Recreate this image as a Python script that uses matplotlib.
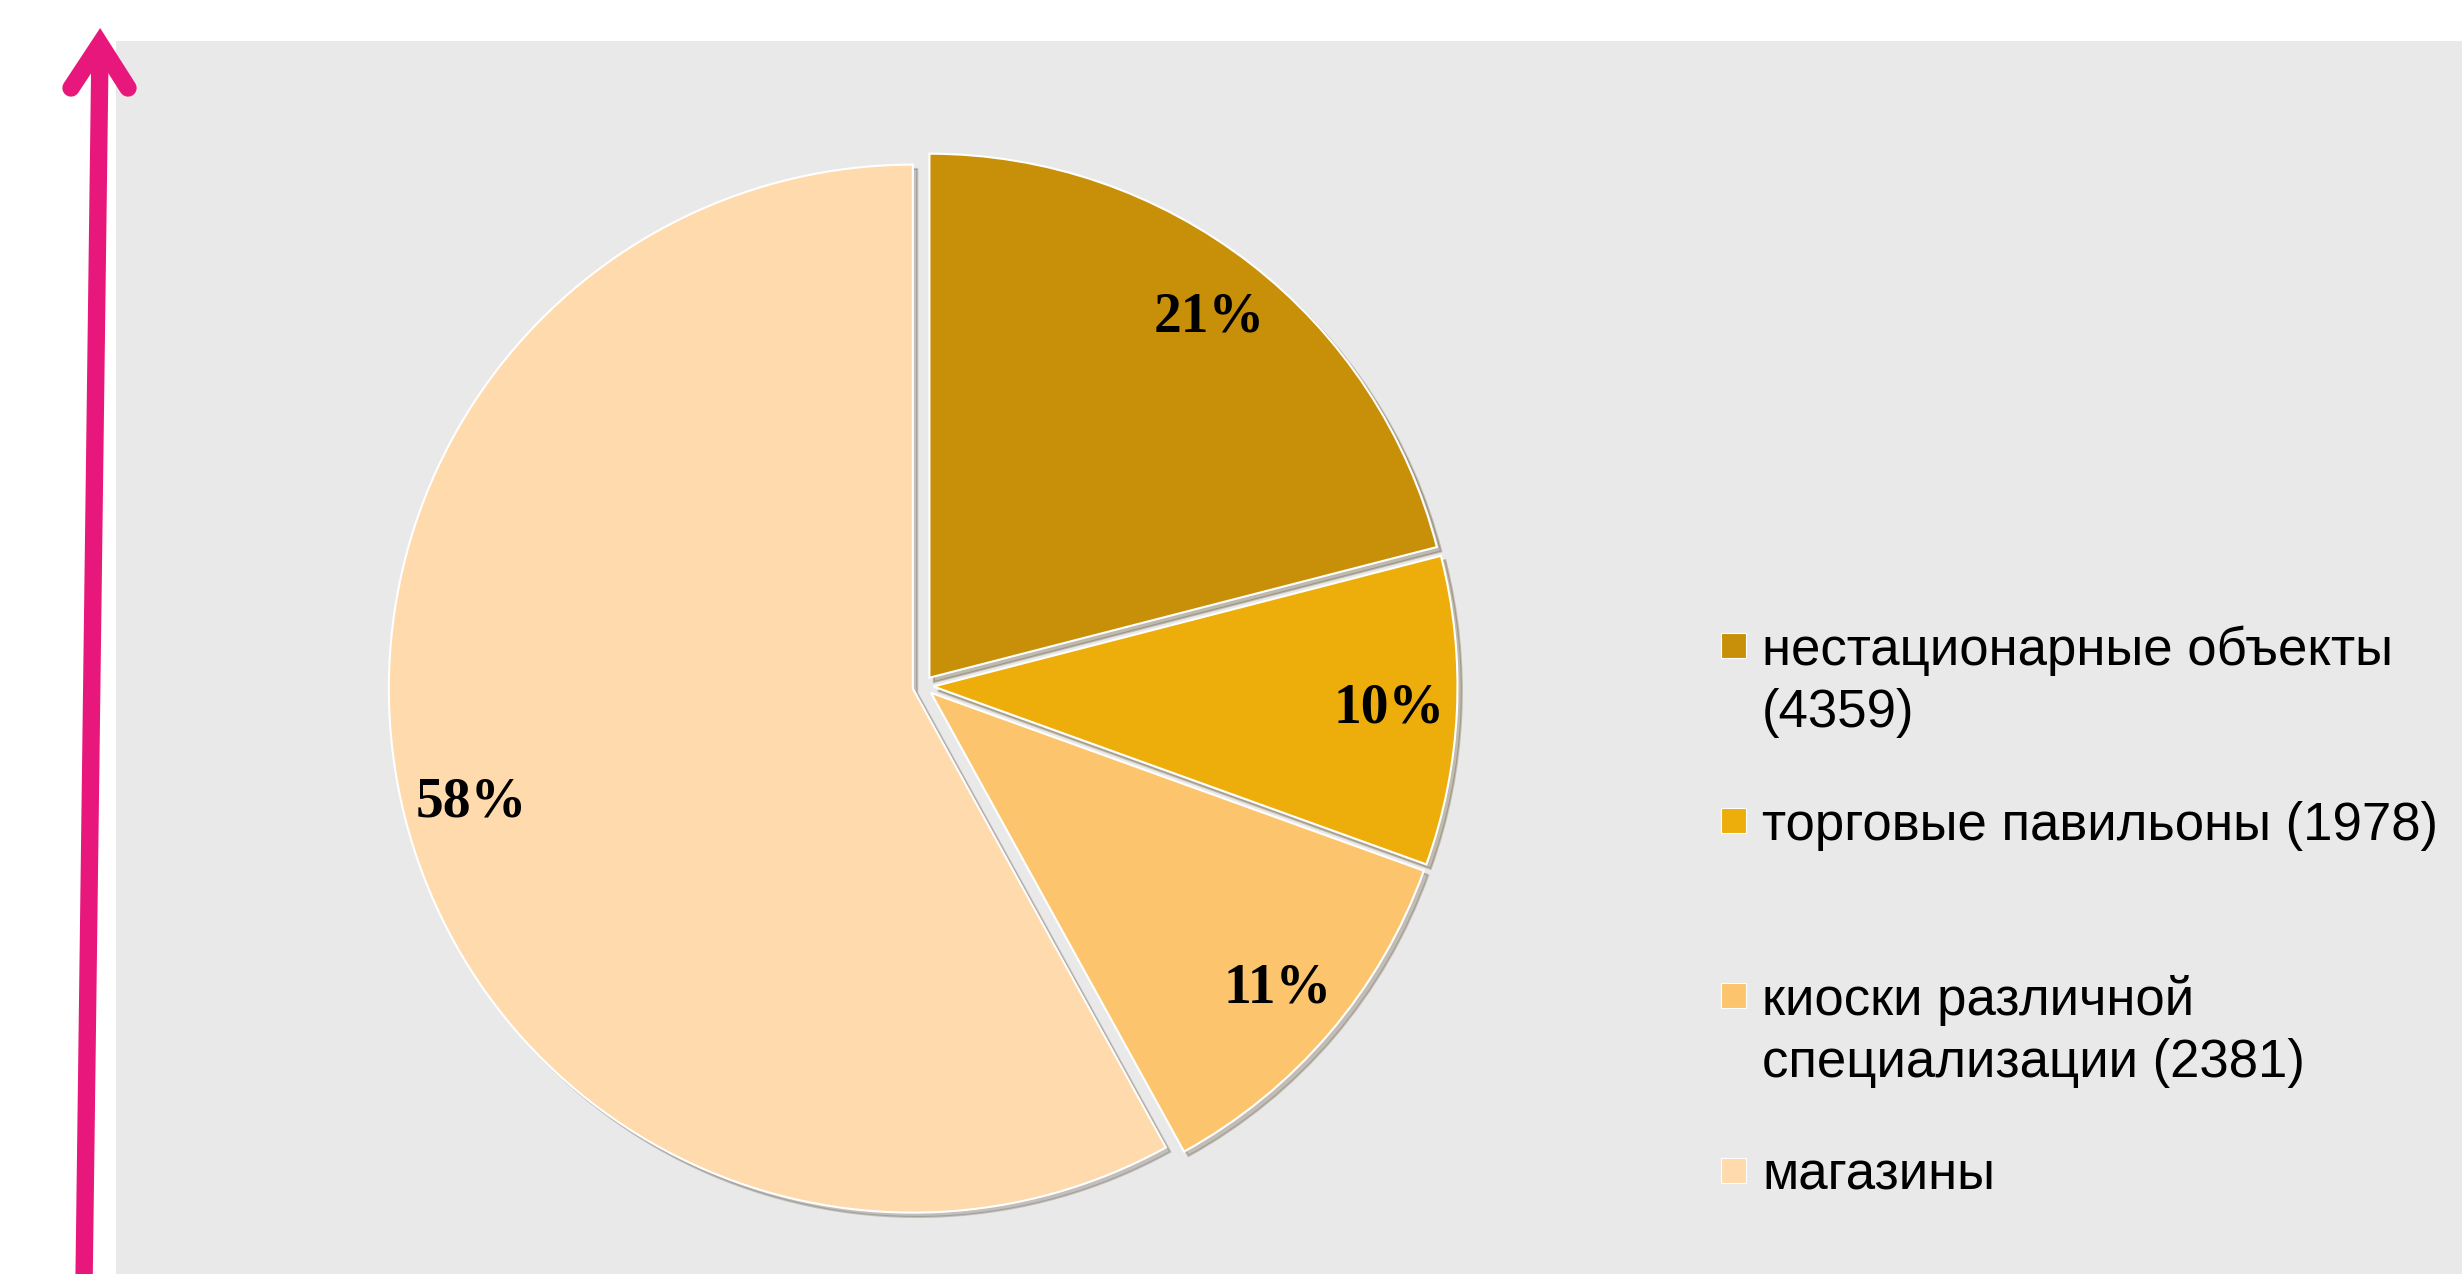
import matplotlib.pyplot as plt
from matplotlib.patches import Rectangle
from matplotlib.lines import Line2D

# data
labels = ['нестационарные объекты\n(4359)',
          'торговые павильоны (1978)',
          'киоски различной\nспециализации (2381)',
          'магазины']
counts = [4359, 1978, 2381, 12050]
colors = ['#C88F08', '#EDAD0B', '#FCC46C', '#FEDAAC']

W, H = 2462, 1274
fig = plt.figure(figsize=(W / 100, H / 100), dpi=100)
fig.patch.set_facecolor('white')

# full-figure layer in pixel units: backdrop, arrow, legend
bg = fig.add_axes([0, 0, 1, 1])
bg.set_xlim(0, W)
bg.set_ylim(H, 0)
bg.axis('off')
bg.add_patch(Rectangle((116, 41), W - 116, H - 41, facecolor='#E9E9E9', edgecolor='none'))

pink = '#E8177C'
bg.add_line(Line2D([84, 100], [H + 10, 50], color=pink, lw=12.5, solid_capstyle='butt'))
bg.add_line(Line2D([71, 100, 128], [88, 44, 88], color=pink, lw=12.5,
                   solid_joinstyle='miter', solid_capstyle='round'))

# pie
R = 524
cx, cy = 923, 686
side = 2.2 * R
ax = fig.add_axes([(cx - side / 2) / W, (H - cy - side / 2) / H, side / W, side / H])
wedges, texts, autotexts = ax.pie(
    counts, colors=colors, startangle=90, counterclock=False,
    explode=[0.02] * len(counts), autopct='%.0f%%', pctdistance=0.87,
    wedgeprops=dict(edgecolor='white', linewidth=1.5),
    textprops=dict(family='Liberation Serif', fontweight='bold', fontsize=40, color='black'),
    shadow={'ox': 0.006, 'oy': -0.006, 'alpha': 0.25})
ax.set_xlim(-1.1, 1.1)
ax.set_ylim(-1.1, 1.1)
ax.patch.set_visible(False)

# legend, drawn by hand to keep the wide spacing of the original
for i, (lab, col) in enumerate(zip(labels, colors)):
    base = 665 + i * 175
    bg.add_patch(Rectangle((1721, base - 32), 25, 25, facecolor=col,
                           edgecolor='white', linewidth=0.8))
    for j, line in enumerate(lab.split('\n')):
        bg.text(1762, base + j * 62, line, fontsize=38, family='Liberation Sans',
                va='baseline', ha='left')

fig.savefig('out.png', dpi=100)
